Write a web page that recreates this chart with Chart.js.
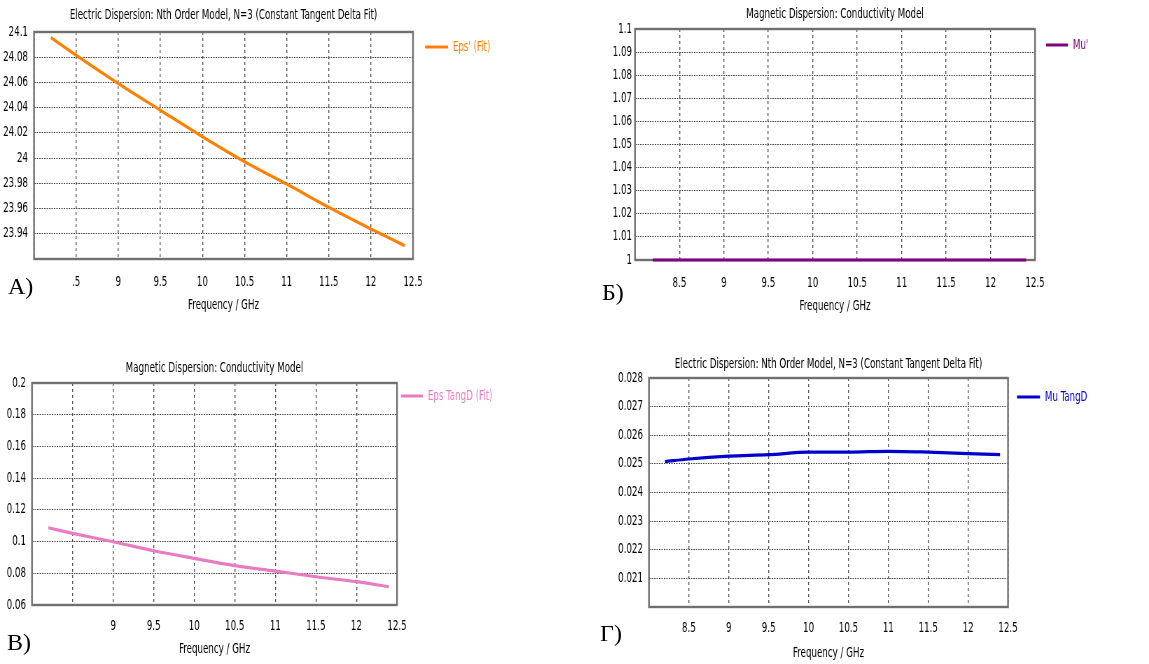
<!DOCTYPE html>
<html>
<head>
<meta charset="utf-8">
<script src="https://cdn.jsdelivr.net/npm/chart.js@4.4.1/dist/chart.umd.min.js"></script>
<style>
  html, body { margin: 0; padding: 0; background: #fff; }
  #page { position: relative; width: 1149px; height: 664px; overflow: hidden; }
  .panel { position: absolute; transform-origin: 0 0; }
  .tag { position: absolute; font-family: 'Liberation Serif', 'Times New Roman', serif; font-size: 24px; line-height: 24px; color: #000; }
</style>
</head>
<body>
<div id="page">
  <div class="panel" id="pA"><canvas id="cA"></canvas></div>
  <div class="panel" id="pB"><canvas id="cB"></canvas></div>
  <div class="panel" id="pC"><canvas id="cC"></canvas></div>
  <div class="panel" id="pD"><canvas id="cD"></canvas></div>
  <div class="tag" style="left:8px;top:274px">А)</div>
  <div class="tag" style="left:602px;top:280px">Б)</div>
  <div class="tag" style="left:7px;top:630px">В)</div>
  <div class="tag" style="left:600px;top:621px">Г)</div>
</div>
<script>
const FONT = "'DejaVu Sans Condensed', 'DejaVu Sans', sans-serif";
const FSIZE = 13.8;
const SX = 0.7;   // the original screenshots are squeezed sideways

// --- data ---
const freq = [8.2, 8.5, 9, 9.5, 10, 10.5, 11, 11.5, 12, 12.4];
const epsReal = [24.0956, 24.0816, 24.0592, 24.038, 24.017, 23.9972, 23.9794, 23.961, 23.9438, 23.9306];
const muReal = [1, 1, 1, 1, 1, 1, 1, 1, 1, 1];
const epsTan = [0.1087, 0.1052, 0.0999, 0.0942, 0.0894, 0.0848, 0.0814, 0.0778, 0.0747, 0.0715];
const muTan = [0.02508, 0.02517, 0.02527, 0.02532, 0.02541, 0.02541, 0.02544, 0.02541, 0.02536, 0.02532];

// x tick labels (8 .. 12.5 step 0.5)
const xLabelsA = ['', '.5', '9', '9.5', '10', '10.5', '11', '11.5', '12', '12.5'];
const xLabelsB = ['', '8.5', '9', '9.5', '10', '10.5', '11', '11.5', '12', '12.5'];
const xLabelsC = ['', '', '9', '9.5', '10', '10.5', '11', '11.5', '12', '12.5'];
const xLabelsD = ['', '8.5', '9', '9.5', '10', '10.5', '11', '11.5', '12', '12.5'];

const titleElectric = 'Electric Dispersion: Nth Order Model, N=3 (Constant Tangent Delta Fit)';
const titleMagnetic = 'Magnetic Dispersion: Conductivity Model';
const xTitle = 'Frequency / GHz';

// solid border round the plot area
const framePlugin = {
  id: 'frame',
  beforeDatasetsDraw(chart) {
    const { ctx, chartArea: a } = chart;
    ctx.save();
    ctx.strokeStyle = '#707070';
    ctx.lineWidth = 2.4;
    ctx.strokeRect(a.left, a.top, a.right - a.left, a.bottom - a.top);
    ctx.restore();
  }
};

const measureCtx = document.createElement('canvas').getContext('2d');
function textWidth(text) {
  measureCtx.font = 'normal ' + FSIZE + 'px ' + FONT;
  return measureCtx.measureText(text).width;
}

// positions below are given in picture pixels, then unsqueezed
function makeChart(id, p) {
  const box = document.getElementById('p' + id.slice(1));
  const w = p.width / SX;
  box.style.left = p.left + 'px';
  box.style.top = p.top + 'px';
  box.style.width = w + 'px';
  box.style.height = p.height + 'px';
  box.style.transform = 'scaleX(' + SX + ')';

  const lhalf = FSIZE * 1.2 / 2;
  const lpad = p.legendGap / SX;
  const boxW = p.legendLine / SX;
  const legW = lpad + boxW + FSIZE / 2 + textWidth(p.label) + 10;
  const right = (p.R - p.left) / SX;
  const padRight = w - right - legW;
  const legTitleTop = p.legendY - p.top - lpad - FSIZE / 2 - 1.2;

  const font = { family: FONT, size: FSIZE, weight: 'normal' };
  return new Chart(document.getElementById(id), {
    type: 'line',
    data: {
      datasets: [{
        label: p.label,
        data: freq.map((f, i) => ({ x: f, y: p.values[i] })),
        borderColor: p.color,
        backgroundColor: p.color,
        borderWidth: 3.2,
        pointRadius: 0,
        clip: 4,
        cubicInterpolationMode: 'monotone'
      }]
    },
    options: {
      responsive: true, maintainAspectRatio: false, animation: false,
      layout: { padding: { left: 0, top: 0, bottom: 0, right: Math.max(0, padRight) } },
      plugins: {
        title: {
          display: true, text: p.title, fullSize: false, color: '#000', font,
          padding: { top: p.titleY - p.top - lhalf, bottom: p.T - p.titleY - lhalf }
        },
        legend: {
          position: 'right', align: 'start',
          title: { display: true, text: '', font: { size: 1 }, padding: { top: Math.max(0, legTitleTop), bottom: 0 } },
          labels: { color: p.color, font, boxWidth: boxW, boxHeight: 0, padding: lpad }
        },
        tooltip: { enabled: false }
      },
      scales: {
        x: {
          type: 'linear', min: 8, max: 12.5,
          ticks: { stepSize: 0.5, autoSkip: false, maxRotation: 0, color: '#000', font,
                   padding: p.xLabelY - p.B - FSIZE * 0.54,
                   callback: (v, i) => p.xLabels[i] },
          grid: { color: '#555', lineWidth: 1.4, drawTicks: false },
          border: { display: false, dash: [3, 3] },
          title: { display: true, text: xTitle, color: '#000', font,
                   padding: { top: 0, bottom: p.top + p.height - p.xTitleY - lhalf } },
          afterFit: s => { s.height = p.top + p.height - p.B; }
        },
        y: {
          min: p.yMin, max: p.yMax,
          ticks: { stepSize: p.yStep, padding: p.yGap / SX, color: '#000', font,
                   callback: v => (p.hideMin && Math.abs(v - p.yMin) < 1e-9) ? '' : String(+v.toFixed(p.yDec)) },
          grid: { color: '#444', lineWidth: 1, drawTicks: false },
          border: { display: false, dash: [2, 1.5] },
          afterFit: s => { s.width = (p.L - p.left) / SX; }
        }
      }
    },
    plugins: [framePlugin]
  });
}

makeChart('cA', {
  label: "Eps' (Fit)", values: epsReal, color: '#FF8000', title: titleElectric,
  xLabels: xLabelsA, yMin: 23.92, yMax: 24.1, yStep: 0.02, yDec: 2, hideMin: true,
  left: 0, top: 0, width: 560, height: 320,
  L: 34, R: 413, T: 32, B: 259, titleY: 15, xLabelY: 282, xTitleY: 305,
  yGap: 6, legendGap: 12, legendLine: 23, legendY: 47
});

makeChart('cB', {
  label: "Mu'", values: muReal, color: '#800080', title: titleMagnetic,
  xLabels: xLabelsB, yMin: 1, yMax: 1.1, yStep: 0.01, yDec: 2, hideMin: false,
  left: 575, top: 0, width: 574, height: 320,
  L: 635, R: 1035, T: 29, B: 260, titleY: 14, xLabelY: 283, xTitleY: 306,
  yGap: 3, legendGap: 11, legendLine: 22, legendY: 45
});

makeChart('cC', {
  label: 'Eps TangD (Fit)', values: epsTan, color: '#E97CC0', title: titleMagnetic,
  xLabels: xLabelsC, yMin: 0.06, yMax: 0.2, yStep: 0.02, yDec: 2, hideMin: false,
  left: 0, top: 340, width: 560, height: 324,
  L: 32, R: 397, T: 383, B: 605, titleY: 368, xLabelY: 626, xTitleY: 649,
  yGap: 6, legendGap: 4, legendLine: 22, legendY: 396
});

makeChart('cD', {
  label: 'Mu TangD', values: muTan, color: '#0000CD', title: titleElectric,
  xLabels: xLabelsD, yMin: 0.02, yMax: 0.028, yStep: 0.001, yDec: 3, hideMin: true,
  left: 575, top: 340, width: 574, height: 324,
  L: 649, R: 1008, T: 378, B: 607, titleY: 364, xLabelY: 628, xTitleY: 653,
  yGap: 6, legendGap: 9, legendLine: 23, legendY: 397
});
</script>
</body>
</html>
